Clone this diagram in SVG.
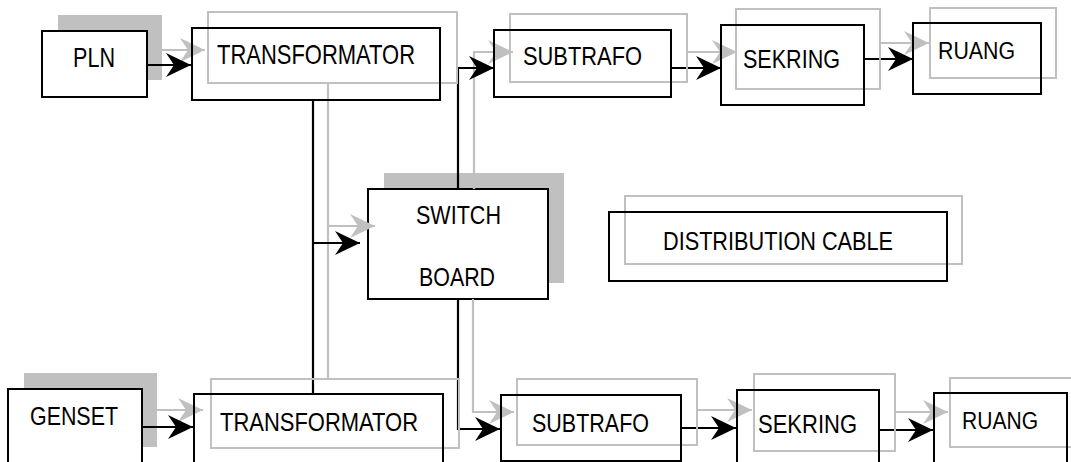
<svg xmlns="http://www.w3.org/2000/svg" width="1071" height="462" viewBox="0 0 1071 462">
<style>
.g{fill:none;stroke:#c0c0c0;stroke-width:2}
.sh{fill:#c0c0c0;stroke:none}
.b{fill:none;stroke:#000;stroke-width:2}
.bw{fill:#fff;stroke:#000;stroke-width:2}
.cb{fill:none;stroke:#000;stroke-width:2.2}
.cg{fill:none;stroke:#c0c0c0;stroke-width:2.2}
text{font-family:"Liberation Sans Narrow","Liberation Sans",Arial,sans-serif;font-size:26px;fill:#000}
</style>
<defs>
<marker id="ab" markerUnits="userSpaceOnUse" markerWidth="26" markerHeight="26" refX="25" refY="12" orient="auto" overflow="visible"><path d="M0,0 L25,12 L0,24 L8,12 Z" fill="#000"/></marker>
<marker id="ag" markerUnits="userSpaceOnUse" markerWidth="26" markerHeight="26" refX="25" refY="12" orient="auto" overflow="visible"><path d="M0,0 L25,12 L0,24 L8,12 Z" fill="#c0c0c0"/></marker>
</defs>
<rect width="1071" height="462" fill="#fff"/>

<g id="pln">
<rect class="sh" x="58" y="15" width="104" height="65"/>
<rect class="bw" x="42" y="31" width="105" height="66"/>
<text x="73" y="67" textLength="42" lengthAdjust="spacingAndGlyphs" style="font-size:27px">PLN</text>
</g>
<g id="genset">
<rect class="sh" x="24" y="373" width="133" height="74"/>
<rect class="bw" x="8" y="389" width="134" height="85"/>
<text x="30" y="425" textLength="88" lengthAdjust="spacingAndGlyphs">GENSET</text>
</g>
<g id="switchboard">
<rect class="sh" x="384" y="173" width="180" height="110"/>
<rect class="bw" x="368" y="189" width="180" height="110"/>
<text x="416" y="224" textLength="85" lengthAdjust="spacingAndGlyphs">SWITCH</text>
<text x="419" y="286" textLength="76" lengthAdjust="spacingAndGlyphs">BOARD</text>
</g>

<g id="connectors">
<path class="cg" d="M162,50 H205" marker-end="url(#ag)"/>
<path class="cg" d="M328,83 V379"/>
<path class="cg" d="M328,226 H375" marker-end="url(#ag)"/>
<path class="cg" d="M474,189 V52 H513" marker-end="url(#ag)"/>
<path class="cg" d="M687,52 H737" marker-end="url(#ag)"/>
<path class="cg" d="M880,43 H929" marker-end="url(#ag)"/>
<path class="cg" d="M157,410 H203" marker-end="url(#ag)"/>
<path class="cg" d="M473,299 V412 H514" marker-end="url(#ag)"/>
<path class="cg" d="M697,410 H752" marker-end="url(#ag)"/>
<path class="cg" d="M895,412 H948" marker-end="url(#ag)"/>

<path class="cb" d="M147,65 H191" marker-end="url(#ab)"/>
<path class="cb" d="M313,100 V394"/>
<path class="cb" d="M313,243 H360" marker-end="url(#ab)"/>
<path class="cb" d="M458,189 V68 H494" marker-end="url(#ab)"/>
<path class="cb" d="M671,68 H721" marker-end="url(#ab)"/>
<path class="cb" d="M864,59 H913" marker-end="url(#ab)"/>
<path class="cb" d="M142,427 H193" marker-end="url(#ab)"/>
<path class="cb" d="M458,299 V429 H500" marker-end="url(#ab)"/>
<path class="cb" d="M681,428 H736" marker-end="url(#ab)"/>
<path class="cb" d="M879,430 H933" marker-end="url(#ab)"/>
</g>

<g id="trafo-top">
<rect class="g" x="208" y="12" width="249" height="71"/>
<rect class="b" x="192" y="28" width="248" height="72"/>
<text x="217" y="64" textLength="198" lengthAdjust="spacingAndGlyphs" style="font-size:28px">TRANSFORMATOR</text>
</g>
<g id="subtrafo-top">
<rect class="g" x="510" y="14" width="177" height="68"/>
<rect class="b" x="494" y="30" width="177" height="67"/>
<text x="523" y="65" textLength="119" lengthAdjust="spacingAndGlyphs">SUBTRAFO</text>
</g>
<g id="sekring-top">
<rect class="g" x="736" y="9" width="144" height="80"/>
<rect class="b" x="721" y="25" width="143" height="80"/>
<text x="743" y="68" textLength="97" lengthAdjust="spacingAndGlyphs">SEKRING</text>
</g>
<g id="ruang-top">
<rect class="g" x="930" y="8" width="126" height="70"/>
<rect class="b" x="913" y="23" width="128" height="71"/>
<text x="938" y="59" textLength="77" lengthAdjust="spacingAndGlyphs" style="font-size:23px">RUANG</text>
</g>
<g id="distribution-cable">
<rect class="g" x="625" y="196" width="337" height="68"/>
<rect class="b" x="609" y="212" width="338" height="69"/>
<text x="663" y="250" textLength="230" lengthAdjust="spacingAndGlyphs">DISTRIBUTION CABLE</text>
</g>
<g id="trafo-bottom">
<rect class="g" x="211" y="379" width="248" height="69"/>
<rect class="b" x="194" y="394" width="249" height="80"/>
<text x="220" y="431" textLength="198" lengthAdjust="spacingAndGlyphs">TRANSFORMATOR</text>
</g>
<g id="subtrafo-bottom">
<rect class="g" x="517" y="379" width="180" height="66"/>
<rect class="b" x="501" y="395" width="180" height="66"/>
<text x="532" y="432" textLength="117" lengthAdjust="spacingAndGlyphs">SUBTRAFO</text>
</g>
<g id="sekring-bottom">
<rect class="g" x="754" y="374" width="141" height="77"/>
<rect class="b" x="737" y="390" width="142" height="85"/>
<text x="758" y="433" textLength="99" lengthAdjust="spacingAndGlyphs">SEKRING</text>
</g>
<g id="ruang-bottom">
<rect class="g" x="950" y="378" width="125" height="69"/>
<rect class="b" x="934" y="393" width="133" height="82"/>
<text x="962" y="429" textLength="76" lengthAdjust="spacingAndGlyphs" style="font-size:23px">RUANG</text>
</g>
</svg>
